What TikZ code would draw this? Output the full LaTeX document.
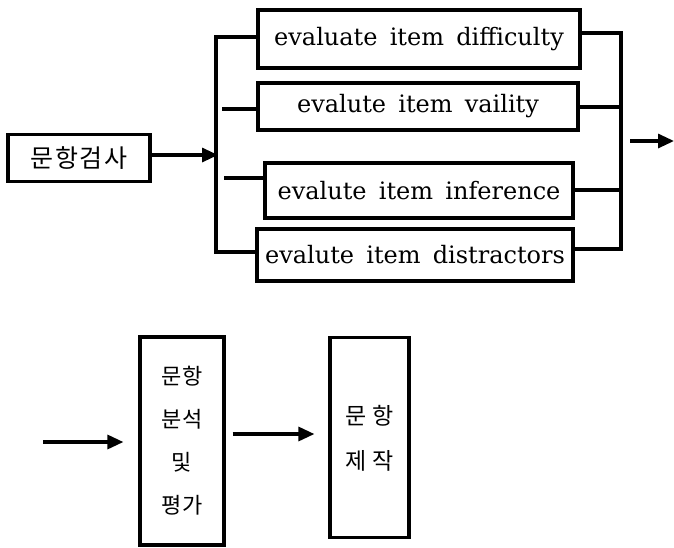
\documentclass[tikz,border=0pt]{standalone}
\usepackage{fontspec}
\setmainfont{DejaVu Serif}[WordSpace=1.6]
\newfontfamily\kr{Noto Sans CJK KR}
\usetikzlibrary{arrows.meta,calc}
\tikzset{
  box/.style={draw, line width=3.2pt, inner sep=0pt, font=\fontsize{24}{28}\selectfont},
  krbox/.style={box, font=\kr\fontsize{25}{28}\selectfont},
  conn/.style={line width=3.2pt},
  arr/.style={conn, -{Triangle[length=16pt,width=14pt]}},
}
\begin{document}
\begin{tikzpicture}[x=1pt,y=-1pt]
\useasboundingbox (0,0) rectangle (674,547);

% input box and the four evaluation steps
\node[krbox, minimum width=142pt, minimum height=47pt, font=\kr\fontsize{25}{28}\selectfont\addfontfeatures{LetterSpace=6}] (test) at (79,158) {문항검사};
\node[box, minimum width=322pt, minimum height=58pt] (b1) at (419,39) {evaluate item difficulty};
\node[box, minimum width=320pt, minimum height=47pt] (b2) at (418,106.5) {evalute item vaility};
\node[box, minimum width=308pt, minimum height=55pt] (b3) at (419,190.5) {evalute item inference};
\node[box, minimum width=316pt, minimum height=52pt] (b4) at (415,255) {evalute item distractors};

% left bus
\coordinate (l1) at (216,37);
\coordinate (l2) at (222,109);
\coordinate (l3) at (224,178);
\coordinate (l4) at (216,252);
\coordinate (lin) at (218,155);
\draw[conn] (l1 -| b1.west) -- (l1) -- (l4) -- (l4 -| b4.west);
\draw[conn] (l2) -- (l2 -| b2.west);
\draw[conn] (l3) -- (l3 -| b3.west);
\draw[arr] (test.east |- lin) -- (lin);

% right bus
\coordinate (r1) at (621,33);
\coordinate (r2) at (621,107);
\coordinate (r3) at (621,190);
\coordinate (r4) at (621,249);
\draw[conn] (r1 -| b1.east) -- (r1) -- (r4) -- (r4 -| b4.east);
\draw[conn] (r2 -| b2.east) -- (r2);
\draw[conn] (r3 -| b3.east) -- (r3);
\coordinate (o1) at (630,141);
\coordinate (o2) at (674,141);
\draw[arr] (o1) -- (o2);

% lower chain
\node[krbox, minimum width=84pt, minimum height=208pt, font=\kr\fontsize{22}{43}\selectfont, align=center] (anal) at (182,441) {문항\\분석\\및\\평가};
\node[krbox, minimum width=79pt, minimum height=200pt, font=\kr\fontsize{23}{45}\selectfont] (make) at (369.5,437.5)
  {\raisebox{10pt}{\begin{tabular}{@{}c@{}}문 항\\제 작\end{tabular}}};
\coordinate (i1) at (43,442);
\draw[arr] (i1) -- ($(anal.west |- i1)+(-15,0)$);
\draw[arr] ($(anal.east |- make.west)+(7,-3.5)$) -- ($(make.west)+(-14,-3.5)$);
\end{tikzpicture}
\end{document}
